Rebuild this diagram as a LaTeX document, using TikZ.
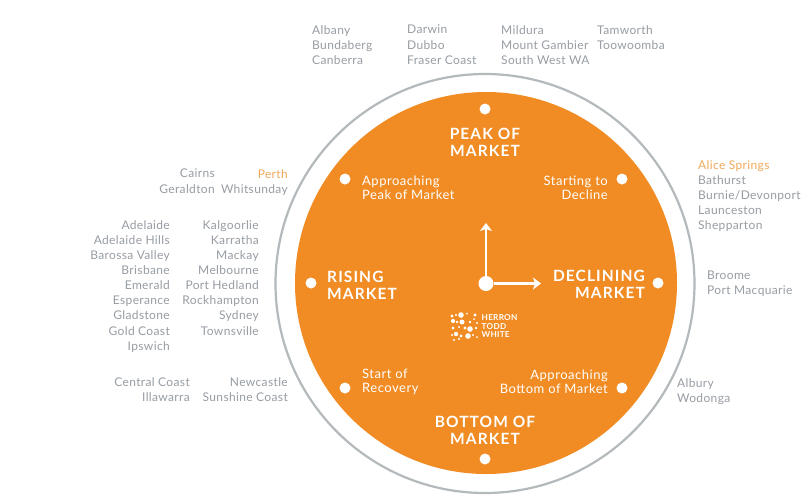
\documentclass[tikz,border=0pt]{standalone}
\usepackage{fontspec}
\setmainfont[LetterSpace=3]{Lato}
\newfontfamily\phasefont[LetterSpace=4]{Lato}
\newfontfamily\majorfont[LetterSpace=7]{Lato}
\usetikzlibrary{arrows.meta}
\definecolor{hotorange}{HTML}{F08C23}
\definecolor{ringgray}{HTML}{B4B9BC}
\definecolor{citygray}{HTML}{979DA3}
\definecolor{cityorange}{HTML}{F0A95A}
\tikzset{
  x=1pt,y=-1pt,
  city/.style={text=citygray,font=\fontsize{12}{15.15}\selectfont,inner sep=0pt,anchor=north},
  cityL/.style={city,align=left,anchor=north west},
  cityR/.style={city,align=right,anchor=north east},
  phase/.style={text=white,font=\phasefont\fontsize{13}{14}\selectfont,inner sep=0pt},
  major/.style={text=white,font=\majorfont\fontsize{15.5}{17}\selectfont\bfseries,inner sep=0pt,align=center},
  wdot/.style={circle,fill=white,inner sep=0pt,minimum size=11pt},
  hand/.style={draw=white,line width=2.4pt,-{Stealth[length=8pt,width=12pt,inset=2pt]}},
}
\begin{document}
\begin{tikzpicture}
\useasboundingbox (0,0) rectangle (805,499);
\fill[white] (0,0) rectangle (805,499);
\draw[ringgray,line width=2.2pt] (485,283.5) circle[radius=209.5];
\fill[hotorange] (486,283) circle[radius=191];

% top
\node[cityL] (t1) at (312,25) {Albany\\Bundaberg\\Canberra};
\node[cityL] (t2) at (407,25) {Darwin\\Dubbo\\Fraser Coast};
\node[cityL] (t3) at (501,25) {Mildura\\Mount Gambier\\South West WA};
\node[cityL] (t4) at (597,25) {Tamworth\\Toowoomba};
% upper left
\node[cityR] (ul1) at (215,169) {Cairns\\Geraldton};
\node[cityR] (ul2) at (288,169) {\textcolor{cityorange}{Perth}\\Whitsunday};
% left
\node[cityR] (l1) at (170,220) {Adelaide\\Adelaide Hills\\Barossa Valley\\Brisbane\\Emerald\\Esperance\\Gladstone\\Gold Coast\\Ipswich};
\node[cityR] (l2) at (259,220) {Kalgoorlie\\Karratha\\Mackay\\Melbourne\\Port Hedland\\Rockhampton\\Sydney\\Townsville};
% lower left
\node[cityR] (ll1) at (190,377) {Central Coast\\Illawarra};
\node[cityR] (ll2) at (288,377) {Newcastle\\Sunshine Coast};
% right
\node[cityL] (r1) at (698,160) {\textcolor{cityorange}{Alice Springs}\\Bathurst\\Burnie/Devonport\\Launceston\\Shepparton};
\node[cityL] (r2) at (707,271) {Broome\\Port Macquarie};
\node[cityL] (r3) at (677,378) {Albury\\Wodonga};

% phase dots
\node[wdot] (dpeak) at (485,109) {};
\node[wdot] (dapk) at (345,179) {};
\node[wdot] (dstart) at (622,179) {};
\node[wdot] (drise) at (311,283) {};
\node[wdot] (ddecl) at (658,283) {};
\node[wdot] (drec) at (345,388) {};
\node[wdot] (dappb) at (622,388) {};
\node[wdot] (dbot) at (485,459) {};

% phase labels
\node[major] (peak) at (485,142) {PEAK OF\\MARKET};
\node[major] (bottom) at (485,430) {BOTTOM OF\\MARKET};
\node[major,align=left,anchor=west] (rising) at (327,285.5) {RISING\\MARKET};
\node[major,align=right,anchor=east] (declining) at (645,284.5) {DECLINING\\MARKET};
\node[phase,align=left,anchor=west] (apk) at (362,187.5) {Approaching\\Peak of Market};
\node[phase,align=right,anchor=east] (sd) at (608,187.5) {Starting to\\Decline};
\node[phase,align=left,anchor=west] (sr) at (362,382) {Start of\\Recovery};
\node[phase,align=right,anchor=east] (abm) at (608,382) {Approaching\\Bottom of Market};

% clock
\node[circle,fill=white,inner sep=0pt,minimum size=15pt] (hub) at (486,283.5) {};
\coordinate (hup) at (486,223);
\coordinate (hright) at (541,283.5);
\draw[hand] (hub) -- (hup);
\draw[hand] (hub) -- (hright);

% logo
\foreach \px/\py/\r in {452/316/1.6,456/315/1.1,461/315/2.8,467/313.5/1.0,475/315/1.7,474/319/1.0,
  453/321/2.1,457/322/1.3,462/322/2.5,470/322/1.4,477/323/1.1,
  453/328/1.7,459/327/1.2,465/328/1.6,470/329/2.8,476/328/1.3,
  452/335/1.2,456/334/2.2,461/336/1.6,468/336/2.8,473/335/1.2,477/337/1.0,
  454/340/1.2,459/339/1.1}
  \fill[white] (\px,\py) circle[radius=\r];
\node[text=white,font=\fontsize{8.2}{8.6}\selectfont\bfseries,inner sep=0pt,align=left,anchor=west] (logo) at (481.5,326) {HERRON\\TODD\\WHITE};
\end{tikzpicture}
\end{document}
